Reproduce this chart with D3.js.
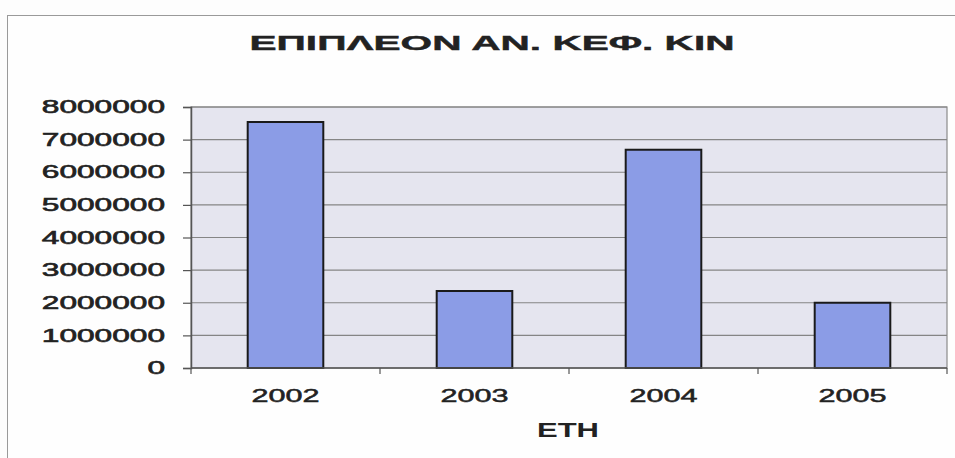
<!DOCTYPE html>
<html>
<head>
<meta charset="utf-8">
<script src="https://cdn.jsdelivr.net/npm/d3@7"></script>
<style>
  html, body { margin: 0; padding: 0; background: #fdfdfd; }
  svg { display: block; }
  text { font-family: "Liberation Sans", Arial, sans-serif; fill: #222; }
</style>
</head>
<body>
<svg id="chart" width="955" height="458"></svg>
<script>
// Surplus per year
const years = ["2002", "2003", "2004", "2005"];
const values = [7540000, 2360000, 6690000, 2000000];
const yTicks = [0, 1000000, 2000000, 3000000, 4000000, 5000000, 6000000, 7000000, 8000000];
const titleText = "ΕΠΙΠΛΕΟΝ ΑΝ. ΚΕΦ. ΚΙΝ";
const xTitle = "ΕΤΗ";

const svg = d3.select("#chart");
const plot = { left: 191, top: 107, right: 947, bottom: 368 };

// outer chart frame
svg.append("rect")
  .attr("x", 7.5).attr("y", 15.5)
  .attr("width", 990).attr("height", 500)
  .attr("fill", "#fefefe").attr("stroke", "#9a9a9a").attr("stroke-width", 1);

const x = d3.scaleBand().domain(years).range([plot.left, plot.right]).padding(0);
const y = d3.scaleLinear().domain([0, 8000000]).range([plot.bottom, plot.top]);

// plot background
svg.append("rect")
  .attr("x", plot.left).attr("y", plot.top)
  .attr("width", plot.right - plot.left).attr("height", plot.bottom - plot.top)
  .attr("fill", "#e5e5ef").attr("stroke", "#8a8a8a").attr("stroke-width", 1.2);

// horizontal gridlines
svg.append("g").selectAll("line")
  .data(yTicks.filter(d => d > 0))
  .join("line")
  .attr("x1", plot.left).attr("x2", plot.right)
  .attr("y1", d => y(d)).attr("y2", d => y(d))
  .attr("stroke", "#858585").attr("stroke-width", 1.1);

// bars
const barFrac = 0.4;
svg.append("g").selectAll("rect")
  .data(years.map((yr, i) => ({ yr, v: values[i] })))
  .join("rect")
  .attr("x", d => x(d.yr) + x.bandwidth() * (1 - barFrac) / 2)
  .attr("width", x.bandwidth() * barFrac)
  .attr("y", d => y(d.v))
  .attr("height", d => y(0) - y(d.v))
  .attr("fill", "#8b9ce6")
  .attr("stroke", "#1a1a1a").attr("stroke-width", 2);

// y axis
const yAxis = svg.append("g")
  .attr("transform", `translate(${plot.left},0)`)
  .call(d3.axisLeft(y).tickValues(yTicks).tickFormat(d3.format("d")).tickSize(8).tickPadding(18));
yAxis.select(".domain").attr("stroke", "#555").attr("stroke-width", 1.5);
yAxis.selectAll(".tick line").attr("stroke", "#555").attr("stroke-width", 1.2);
yAxis.selectAll(".tick text")
  .style("font-family", "'Liberation Sans', Arial, sans-serif")
  .attr("font-size", 17.7)
  .attr("fill", "#222")
  .attr("stroke", "#222").attr("stroke-width", 0.6)
  .attr("textLength", d => String(d).length * 17.6)
  .attr("lengthAdjust", "spacingAndGlyphs");

// x axis: ticks at category boundaries
const xAxis = svg.append("g").attr("transform", `translate(0,${plot.bottom})`);
xAxis.append("line")
  .attr("x1", plot.left).attr("x2", plot.right)
  .attr("stroke", "#555").attr("stroke-width", 1.5);
xAxis.selectAll("line.tk")
  .data(years.map(d => x(d)).concat([plot.right]))
  .join("line").attr("class", "tk")
  .attr("x1", d => d).attr("x2", d => d)
  .attr("y1", 0).attr("y2", 6)
  .attr("stroke", "#555").attr("stroke-width", 1.2);
xAxis.selectAll("text")
  .data(years)
  .join("text")
  .attr("x", d => x(d) + x.bandwidth() / 2)
  .attr("y", 34)
  .attr("text-anchor", "middle")
  .attr("font-size", 18.5)
  .attr("stroke", "#222").attr("stroke-width", 0.5)
  .attr("textLength", 68)
  .attr("lengthAdjust", "spacingAndGlyphs")
  .text(d => d);

// axis title
svg.append("text")
  .attr("x", 568).attr("y", 437)
  .attr("text-anchor", "middle")
  .attr("font-size", 19.5).attr("font-weight", "bold")
  .attr("textLength", 62).attr("lengthAdjust", "spacingAndGlyphs")
  .text(xTitle);

// chart title
svg.append("text")
  .attr("x", 492).attr("y", 50)
  .attr("text-anchor", "middle")
  .attr("font-size", 19.5).attr("font-weight", "bold")
  .attr("stroke", "#222").attr("stroke-width", 0.4)
  .attr("textLength", 485).attr("lengthAdjust", "spacingAndGlyphs")
  .text(titleText);
</script>
</body>
</html>
